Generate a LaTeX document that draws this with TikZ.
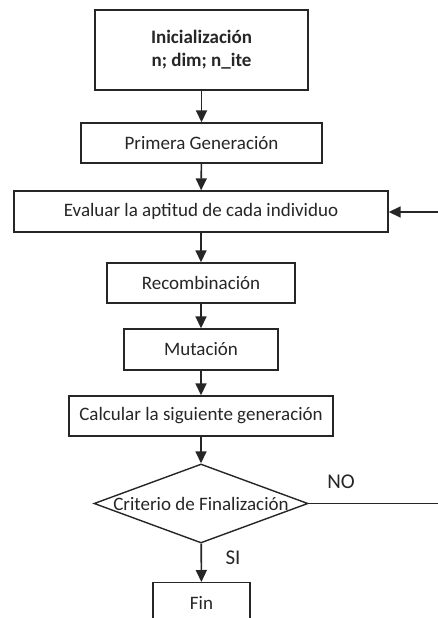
\documentclass[tikz,border=0pt]{standalone}
\usepackage{fontspec}
\setmainfont{Carlito}
\usetikzlibrary{shapes.geometric,arrows.meta}
\definecolor{ink}{HTML}{262626}
\tikzset{
  stepbox/.style={draw=ink, line width=1.4pt, rectangle, inner sep=0pt, align=center,
    font=\fontsize{19}{23}\selectfont, text=ink},
  decision/.style={draw=ink, line width=1.4pt, diamond, inner sep=0pt},
  flow/.style={draw=ink, line width=1.6pt, -{Triangle[width=11pt,length=12pt]}},
  plain/.style={draw=ink, line width=1.4pt},
  tag/.style={font=\fontsize{21}{24}\selectfont, text=ink}
}
\begin{document}
\begin{tikzpicture}[x=1pt,y=-1pt]
  \fill[white] (0,0) rectangle (438,618);
  \useasboundingbox (0,0) rectangle (438,618);

  \node[stepbox, minimum width=213pt, minimum height=80pt] (init) at (201.5,50)
    {\bfseries Inicialización\\ \bfseries n; dim; n\_ite};
  \node[stepbox, minimum width=241pt, minimum height=40pt] (first) at (201.5,143) {Primera Generación};
  \node[stepbox, minimum width=374pt, minimum height=41pt] (eval) at (201,211.5) {Evaluar la aptitud de cada individuo};
  \node[stepbox, minimum width=188pt, minimum height=40pt] (recomb) at (201,283) {Recombinación};
  \node[stepbox, minimum width=154pt, minimum height=41pt] (mut) at (201,349.5) {Mutación};
  \node[stepbox, minimum width=264pt, minimum height=40pt] (next) at (201,416) {Calcular la siguiente generación};
  \node[decision, minimum width=214pt, minimum height=79pt,
        label={[stepbox, draw=none]center:Criterio de Finalización}] (crit) at (201,503.5) {};
  \node[stepbox, minimum width=97pt, minimum height=40pt, anchor=north] (fin) at (201.5,582) {Fin};

  \coordinate (loopin) at (438,212);
  \coordinate (loopout) at (438,503.5);

  \draw[flow] (init) -- (first);
  \draw[flow] (first) -- (eval);
  \draw[flow] (eval) -- (recomb);
  \draw[flow] (recomb) -- (mut);
  \draw[flow] (mut) -- (next);
  \draw[flow] (next) -- (crit);
  \draw[flow] (crit) -- (fin);
  \draw[plain] (crit.east) -- (loopout);
  \draw[flow] (loopin) -- (loopin -| eval.east);

  \node[tag] (no) at (341,482) {NO};
  \node[tag] (si) at (233,558) {SI};
\end{tikzpicture}
\end{document}
